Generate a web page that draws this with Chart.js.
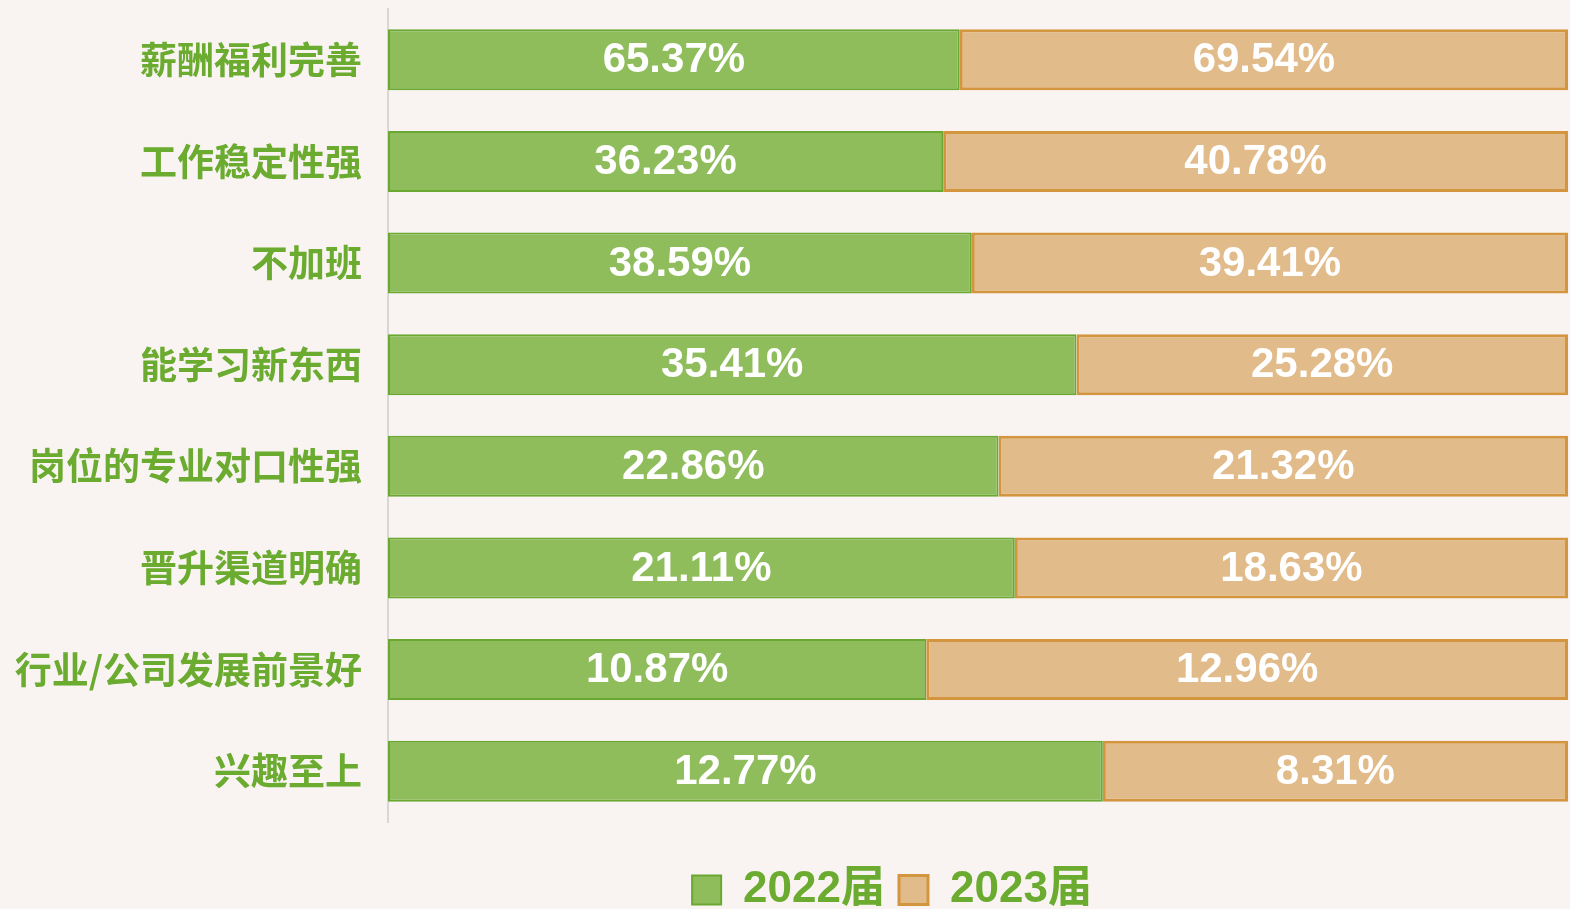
<!DOCTYPE html>
<html>
<head>
<meta charset="utf-8">
<script src="https://cdn.jsdelivr.net/npm/chart.js@4"></script>
<style>
  html, body { margin: 0; padding: 0; background: #f9f4f1; overflow: hidden; }
  #wrap { width: 1570px; height: 909px; }
</style>
</head>
<body>
<div id="wrap"><canvas id="reason-chart"></canvas></div>
<script>
var categories = ["薪酬福利完善", "工作稳定性强", "不加班", "能学习新东西", "岗位的专业对口性强", "晋升渠道明确", "行业/公司发展前景好", "兴趣至上"];
var values2022 = [65.37, 36.23, 38.59, 35.41, 22.86, 21.11, 10.87, 12.77];
var values2023 = [69.54, 40.78, 39.41, 25.28, 21.32, 18.63, 12.96, 8.31];
var seriesNames = ["2022届", "2023届"];

var labelColor = "#6aab30";

// bars are stacked to 100%, each row split by the two raw values
function shareOf(a, b) {
  return a.map(function(v, i) { return v / (v + b[i]) * 100; });
}

var valueLabels = {
  id: 'valueLabels',
  afterDatasetsDraw: function(chart) {
    var ctx = chart.ctx;
    var raw = [values2022, values2023];
    ctx.save();
    ctx.fillStyle = '#ffffff';
    ctx.textAlign = 'center';
    ctx.textBaseline = 'middle';
    ctx.font = "bold 42px 'Liberation Sans', Arial, sans-serif";
    chart.data.datasets.forEach(function(ds, di) {
      chart.getDatasetMeta(di).data.forEach(function(bar, i) {
        var cx = (bar.x + bar.base) / 2;
        ctx.fillText(raw[di][i].toFixed(2) + '%', cx, bar.y + 1);
      });
    });
    ctx.restore();
  }
};

// legend in the original sits a bit right of the page centre
var legendShift = {
  id: 'legendShift',
  afterLayout: function(chart) {
    chart.legend.left += 108;
    chart.legend.right += 108;
  }
};

var ctx = document.getElementById('reason-chart');
var reasonChart = new Chart(ctx, {
  type: 'bar',
  data: {
    labels: categories,
    datasets: [
      {
        label: seriesNames[0],
        data: shareOf(values2022, values2023),
        backgroundColor: '#8fbd5c',
        borderColor: '#6aa832',
        borderWidth: 2,
        borderSkipped: false
      },
      {
        label: seriesNames[1],
        data: shareOf(values2023, values2022),
        backgroundColor: '#e1bb89',
        borderColor: '#d4953f',
        borderWidth: 3,
        borderSkipped: false
      }
    ]
  },
  options: {
    indexAxis: 'y',
    responsive: true,
    maintainAspectRatio: false,
    animation: false,
    categoryPercentage: 1,
    barPercentage: 0.6,
    layout: { padding: { top: 9, right: 2, left: 0, bottom: -13 } },
    scales: {
      x: { stacked: true, min: 0, max: 100, display: false },
      y: {
        stacked: true,
        grid: { display: false, drawTicks: false },
        border: { display: true, color: '#d9d6d3', width: 2 },
        ticks: {
          padding: 26,
          color: labelColor,
          font: { family: "'Noto Sans CJK SC', sans-serif", size: 37, weight: 'bold' }
        },
        afterFit: function(scale) {
          scale.width = 388;
          scale.paddingTop = 0;
          scale.paddingBottom = 0;
        }
      }
    },
    plugins: {
      tooltip: { enabled: false },
      legend: {
        position: 'bottom',
        title: { display: true, text: '', font: { size: 10 }, padding: { top: 0, bottom: 20 } },
        labels: {
          boxWidth: 29,
          boxHeight: 29,
          padding: 14,
          color: labelColor,
          font: { family: "'Liberation Sans', 'Noto Sans CJK SC', sans-serif", size: 44, weight: 'bold' }
        }
      }
    }
  },
  plugins: [valueLabels, legendShift]
});
</script>
</body>
</html>
